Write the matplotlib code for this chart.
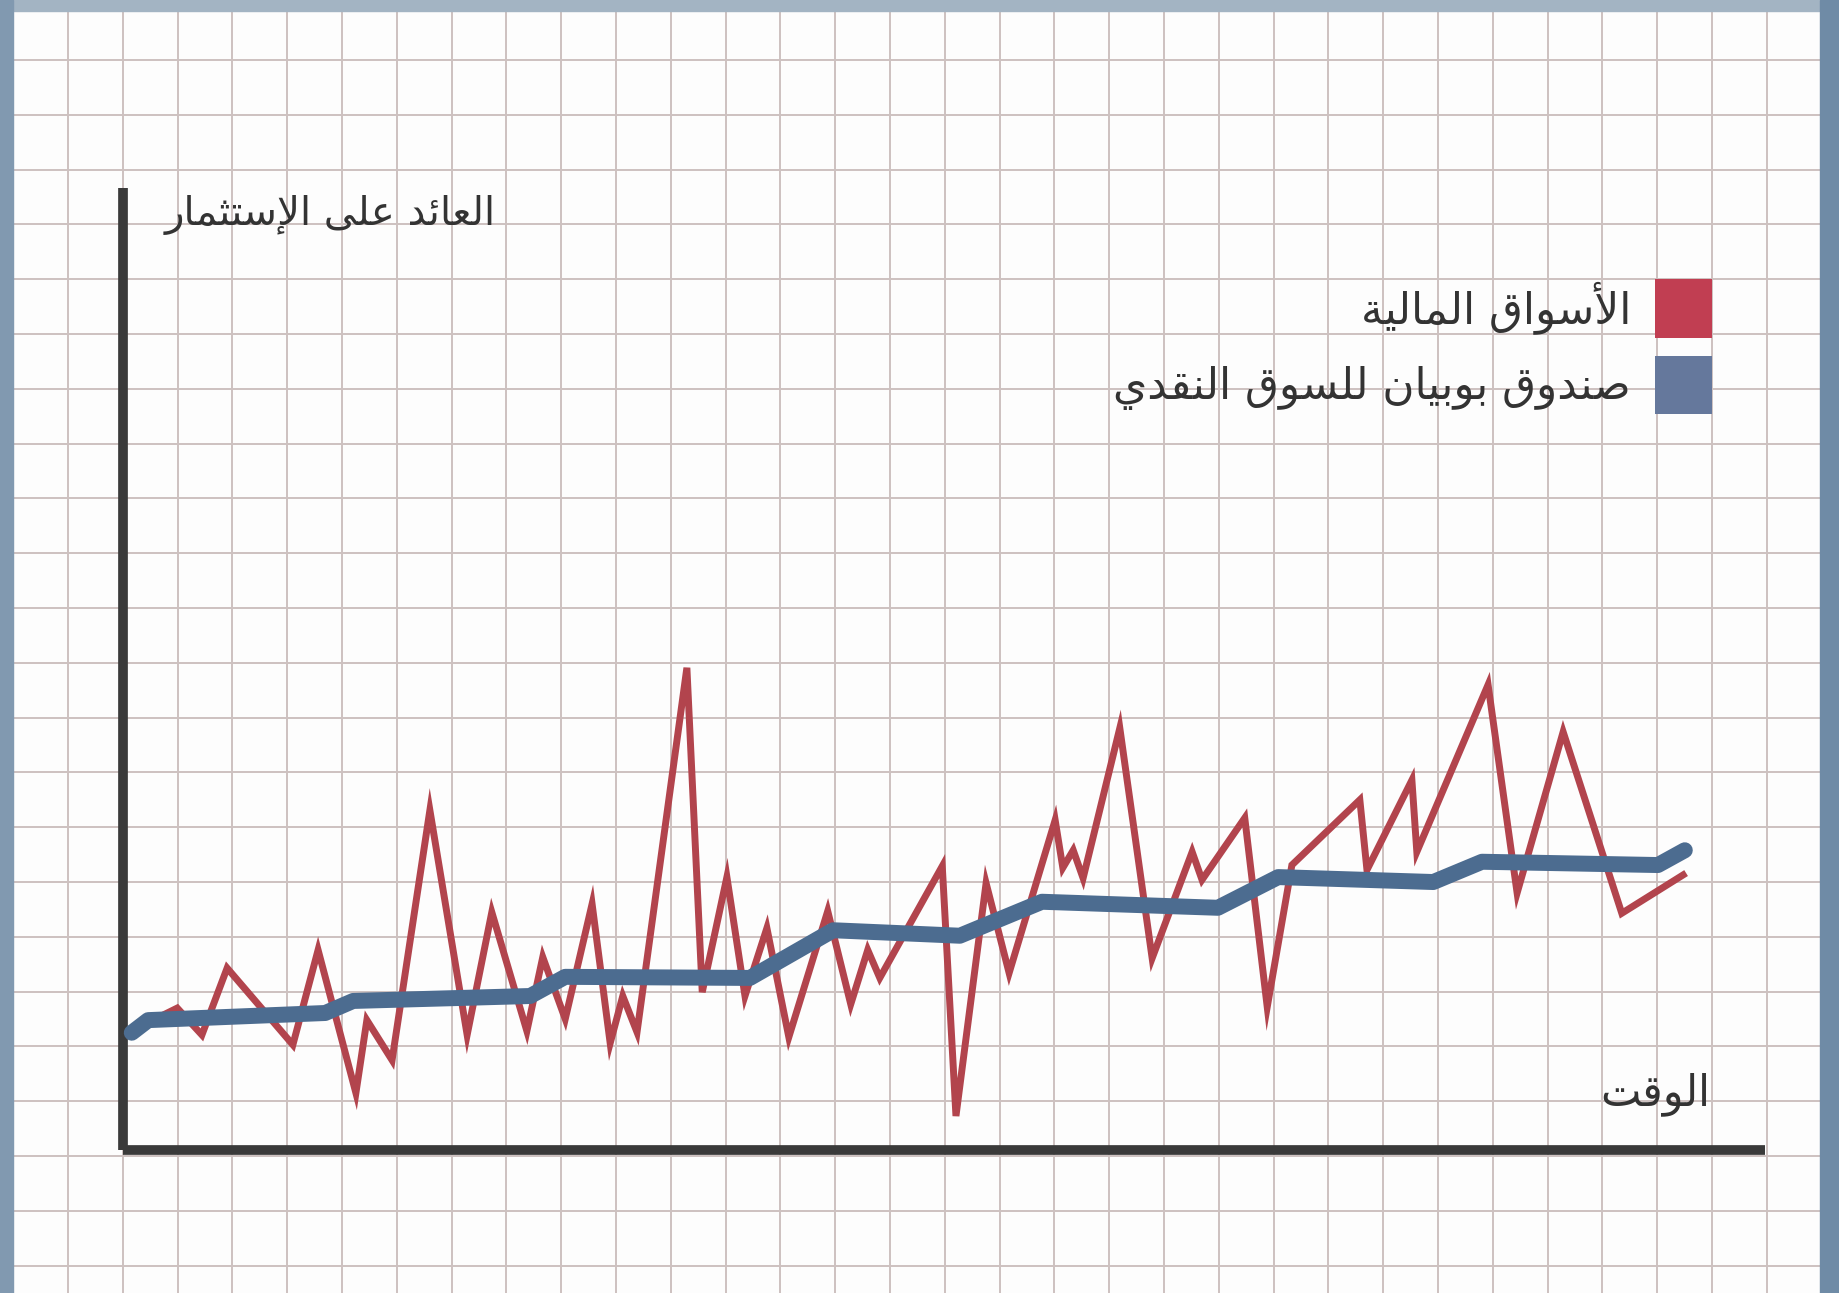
import numpy as np
import matplotlib
matplotlib.use('Agg')
import matplotlib.pyplot as plt
from matplotlib.patches import Patch, Rectangle

# data (grid units: one graph-paper cell = 1)
market_x = [0.18, 0.99, 1.44, 1.90, 3.10, 3.56, 4.25, 4.45, 4.91, 5.60, 6.28, 6.73, 7.37, 7.66,
            8.07, 8.56, 8.89, 9.12, 9.38, 10.29, 10.57, 11.02, 11.35, 11.75, 12.15, 12.86, 13.28,
            13.59, 13.81, 14.95, 15.20, 15.75, 16.17, 17.01, 17.15, 17.34, 17.52, 18.19, 18.78,
            19.51, 19.69, 20.47, 20.88, 21.33, 22.57, 22.70, 23.52, 23.61, 24.91, 25.44, 26.28,
            27.35, 28.47]
market_y = [2.19, 2.59, 2.10, 3.32, 1.92, 3.65, 1.04, 2.37, 1.64, 6.20, 2.10, 4.34, 2.17, 3.52,
            2.39, 4.49, 1.95, 2.81, 2.15, 8.80, 2.88, 4.98, 2.81, 4.05, 2.06, 4.36, 2.66,
            3.65, 3.14, 5.18, 0.62, 4.87, 3.23, 6.02, 5.15, 5.47, 4.96, 7.70, 3.50,
            5.44, 4.93, 6.06, 2.61, 5.20, 6.39, 5.11, 6.75, 5.44, 8.49, 4.69, 7.63,
            4.32, 5.02]

fund_x = [0.16, 0.46, 3.69, 4.20, 7.43, 8.07, 11.44, 12.96, 15.27, 16.77, 19.98, 21.08,
          23.91, 24.80, 28.01, 28.50]
fund_y = [2.14, 2.37, 2.50, 2.72, 2.81, 3.16, 3.14, 4.01, 3.91, 4.53, 4.42, 4.98,
          4.89, 5.26, 5.20, 5.47]

labels = ['الأسواق المالية', 'صندوق بوبيان للسوق النقدي']
y_title = 'العائد على الإستثمار'
x_title = 'الوقت'

# matplotlib has no arabic shaping, so join the letters by hand
DUAL = {'ب': 0xFE8F, 'ت': 0xFE95, 'ث': 0xFE99, 'ئ': 0xFE89, 'س': 0xFEB1, 'ص': 0xFEB9,
        'ع': 0xFEC9, 'ق': 0xFED5, 'ل': 0xFEDD, 'م': 0xFEE1, 'ن': 0xFEE5, 'ي': 0xFEF1}
RIGHT = {'ا': 0xFE8D, 'أ': 0xFE83, 'إ': 0xFE87, 'ة': 0xFE93, 'د': 0xFEA9, 'ر': 0xFEAD,
         'و': 0xFEED, 'ى': 0xFEEF}
LAM_ALEF = {'ا': 0xFEFB, 'أ': 0xFEF7, 'إ': 0xFEF9}


def shape(s):
    out = []
    i = 0
    n = len(s)
    while i < n:
        c = s[i]
        link_prev = i > 0 and s[i - 1] in DUAL
        if c == 'ل' and i + 1 < n and s[i + 1] in LAM_ALEF:
            out.append(chr(LAM_ALEF[s[i + 1]] + (1 if link_prev else 0)))
            i += 2
            continue
        nxt = s[i + 1] if i + 1 < n else ' '
        link_next = c in DUAL and (nxt in DUAL or nxt in RIGHT)
        if c in DUAL:
            f = 3 if (link_prev and link_next) else 1 if link_prev else 2 if link_next else 0
            out.append(chr(DUAL[c] + f))
        elif c in RIGHT:
            out.append(chr(RIGHT[c] + (1 if link_prev else 0)))
        else:
            out.append(c)
        i += 1
    return ''.join(reversed(out))


W, H = 1839, 1293
fig = plt.figure(figsize=(W / 100, H / 100), dpi=100)
fig.patch.set_facecolor('#fdfdfd')

# graph paper background
bg = fig.add_axes([0, 0, 1, 1])
bg.set_xlim(0, W)
bg.set_ylim(H, 0)
bg.axis('off')
cell = 54.8
for k in range(34):
    bg.axvline(68 + cell * k, color='#cdc1c0', lw=1.4, zorder=1)
for k in range(-3, 22):
    bg.axhline(1156 - cell * k, color='#cdc1c0', lw=1.4, zorder=1)
# blue frame strips
bg.add_patch(Rectangle((0, 0), W, 11, color='#a3b4c3', zorder=3))
bg.add_patch(Rectangle((0, 0), 13, H, color='#8199b0', zorder=3))
bg.add_patch(Rectangle((1820, 0), 19, H, color='#6f8ba6', zorder=3))

ax = fig.add_axes([123 / W, 1 - 1150 / H, (1765 - 123) / W, (1150 - 188) / H])
ax.patch.set_alpha(0)
ax.set_xlim(0, (1765 - 123) / cell)
ax.set_ylim(0, (1150 - 188) / cell)
for s in ['top', 'right']:
    ax.spines[s].set_visible(False)
for s in ['left', 'bottom']:
    ax.spines[s].set_linewidth(7)
    ax.spines[s].set_color('#3a3a3a')
    ax.spines[s].set_capstyle('butt')
ax.set_xticks([])
ax.set_yticks([])

red = '#b2444d'
blue = '#4c6c90'
ax.plot(market_x, market_y, color=red, lw=5, solid_joinstyle='miter', zorder=3)
ax.plot(fund_x, fund_y, color=blue, lw=11.5, solid_capstyle='round',
        solid_joinstyle='round', zorder=4)

ax.text(0.227, 0.972, shape(y_title), transform=ax.transAxes, ha='right', va='center',
        fontsize=29, color='#333333', family='DejaVu Sans')
ax.text(0.9665, 0.058, shape(x_title), transform=ax.transAxes, ha='right', va='center',
        fontsize=31, color='#333333', family='DejaVu Sans')

handles = [Patch(facecolor='#c13e52', edgecolor='none'),
           Patch(facecolor='#65789c', edgecolor='none')]
leg = ax.legend(handles, [shape(l) for l in labels], markerfirst=False, frameon=False,
                loc='upper right', bbox_to_anchor=(0.9677, 0.905), borderpad=0,
                borderaxespad=0, handlelength=1.3, handleheight=1.69, handletextpad=0.55,
                labelspacing=0.4, prop={'family': 'DejaVu Sans', 'size': 31.5})
for t in leg.get_texts():
    t.set_color('#333333')

fig.savefig('out.png', dpi=100, facecolor=fig.get_facecolor())
